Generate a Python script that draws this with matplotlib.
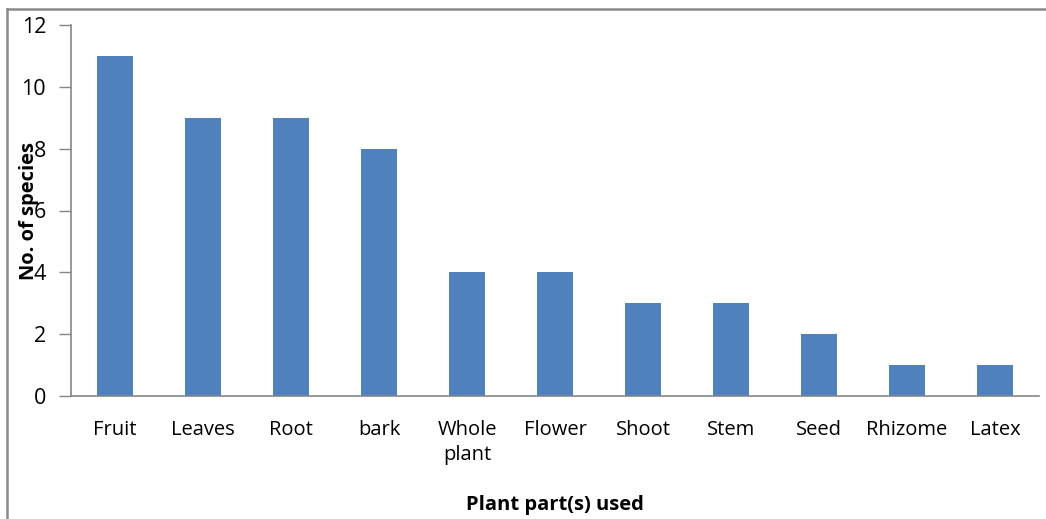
import matplotlib.pyplot as plt
from matplotlib.lines import Line2D

parts = ['Fruit', 'Leaves', 'Root', 'bark', 'Whole\nplant', 'Flower',
         'Shoot', 'Stem', 'Seed', 'Rhizome', 'Latex']
species = [11, 9, 9, 8, 4, 4, 3, 3, 2, 1, 1]
yticks = [0, 2, 4, 6, 8, 10, 12]

BAR = '#4F81BD'
AXIS = '#868686'

plt.rcParams['font.family'] = ['Open Sans', 'DejaVu Sans']

fig = plt.figure(figsize=(10.46, 5.19), dpi=100)
ax = fig.add_axes([71 / 1046, 1 - 396 / 519, (1039 - 71) / 1046, (396 - 25) / 519])

xs = range(len(parts))
ax.bar(xs, species, width=0.4, color=BAR)

ax.set_xlim(-0.5, len(parts) - 0.5)
ax.set_ylim(0, 12)
ax.set_yticks(yticks)
ax.set_xticks(list(xs))
ax.set_xticklabels(parts, fontsize=14.5, linespacing=1.35)
ax.tick_params(axis='x', length=0, pad=17)
ax.tick_params(axis='y', length=9, width=1, color=AXIS, labelsize=15.5, pad=9)

for side in ('top', 'right'):
    ax.spines[side].set_visible(False)
for side in ('left', 'bottom'):
    ax.spines[side].set_color(AXIS)
    ax.spines[side].set_linewidth(1.2)

# the axis title sits over the tick numbers, as in the source chart
ax.set_ylabel('No. of species', fontsize=14.5, fontweight='bold')
ax.yaxis.set_label_coords(-0.033, 0.50)
fig.text(555 / 1046, 1 - 505 / 519, 'Plant part(s) used', fontsize=14.5,
         fontweight='bold', ha='center', va='center')

# chart frame: only the top and left edges fall inside the canvas
fig.add_artist(Line2D([7 / 1046, 7 / 1046], [0, 1 - 9 / 519],
                      transform=fig.transFigure, color='#8a8a8a', lw=1.8))
fig.add_artist(Line2D([7 / 1046, 1], [1 - 9 / 519, 1 - 9 / 519],
                      transform=fig.transFigure, color='#8a8a8a', lw=1.8))

fig.savefig('out.png', dpi=100)
